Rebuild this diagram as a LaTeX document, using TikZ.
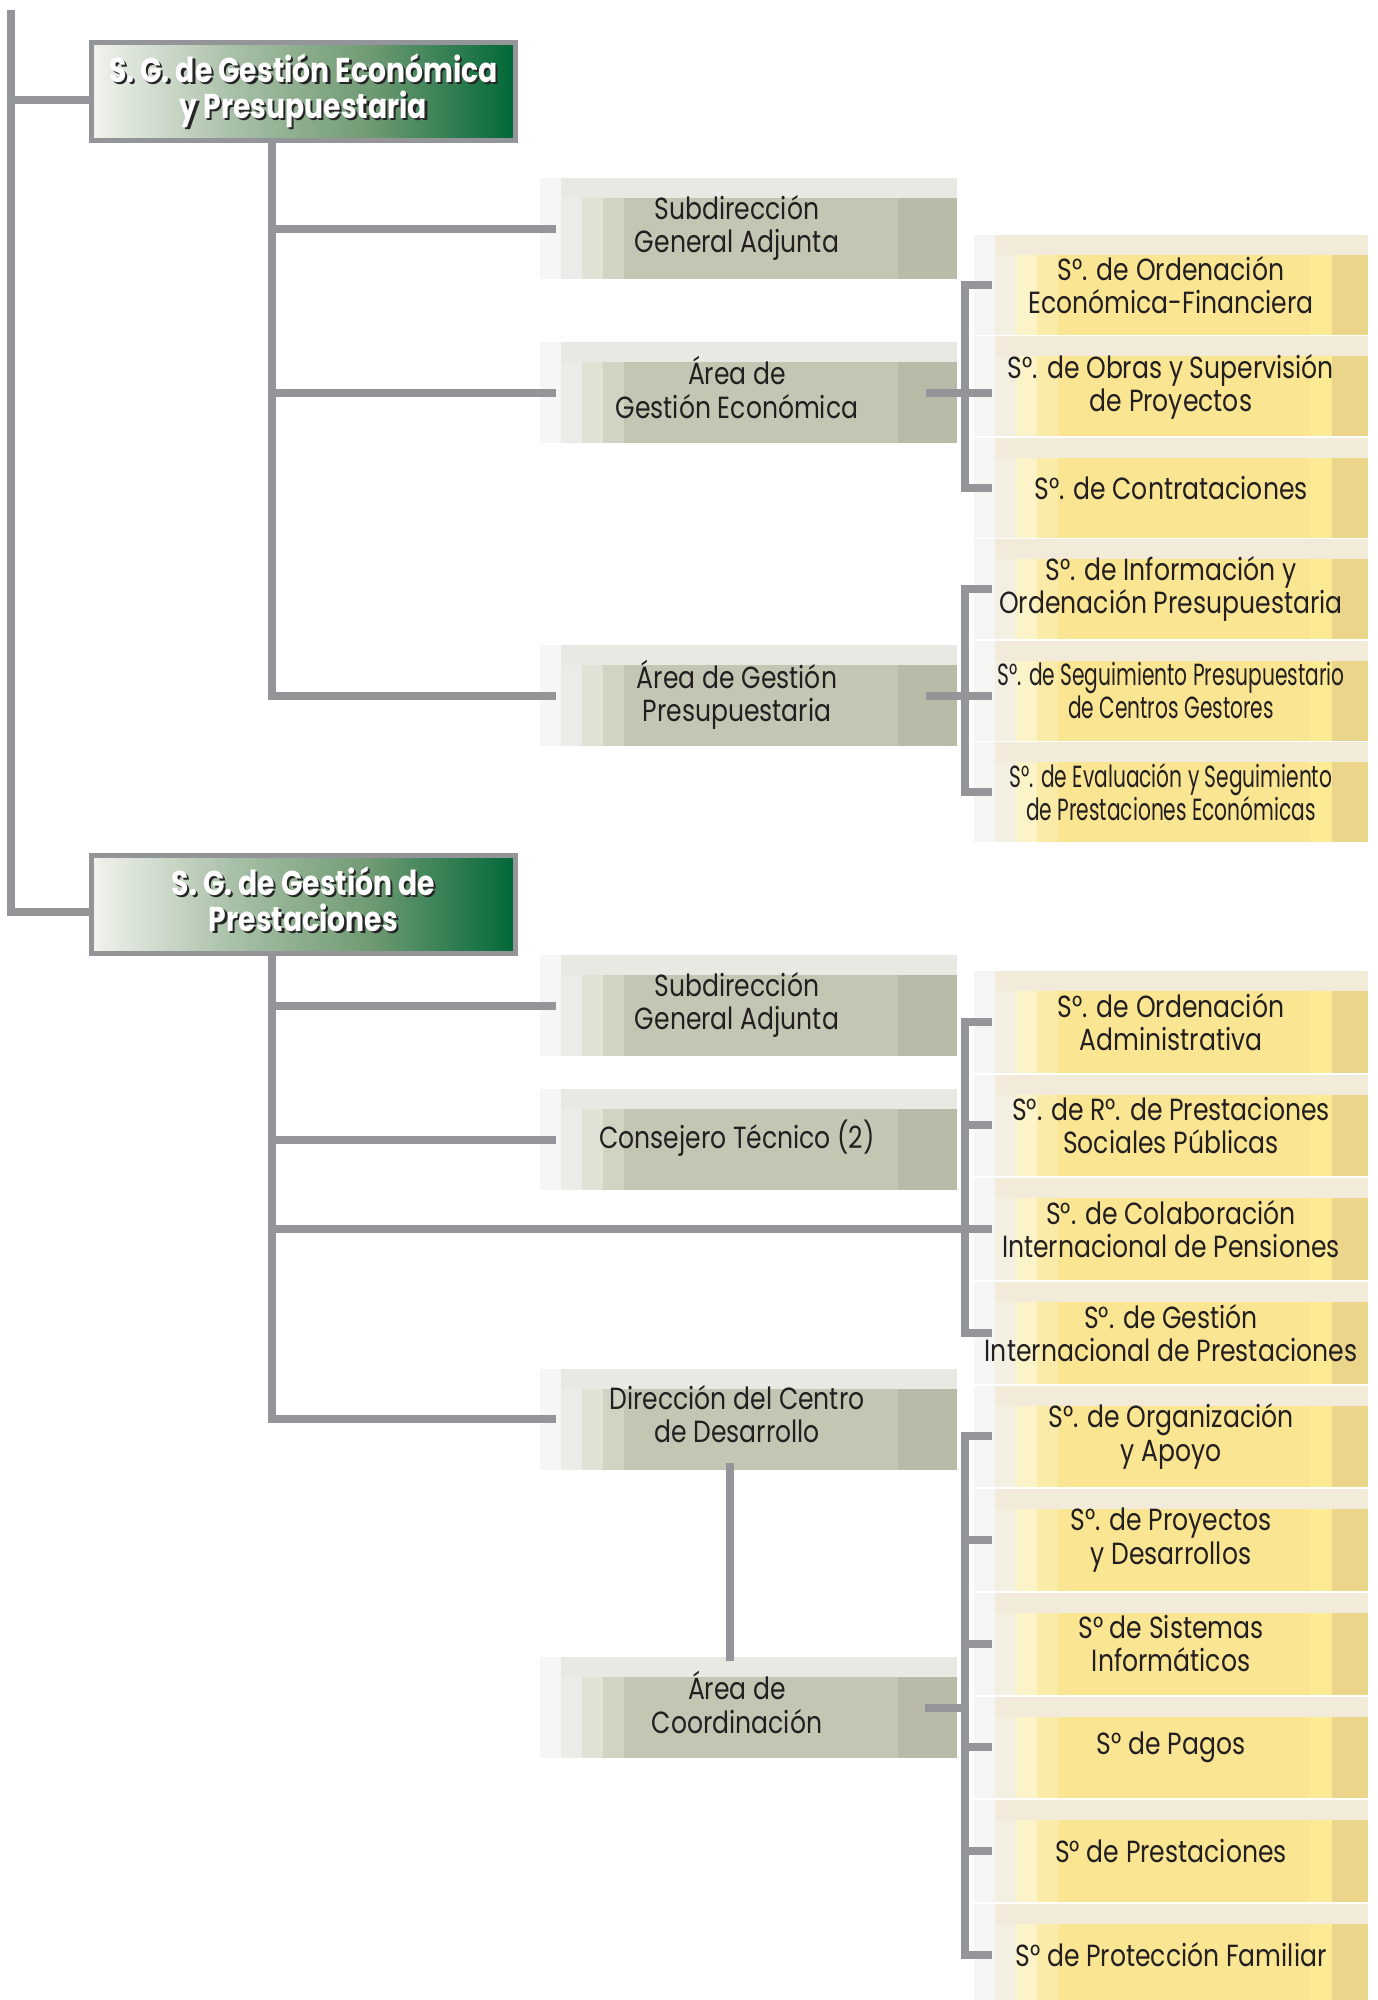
\documentclass[tikz,border=0pt]{standalone}
\usepackage{fontspec}
\setmainfont{Poppins}[FakeStretch=0.82]
\newfontfamily\narrowfont{Poppins}[FakeStretch=0.66]
\usetikzlibrary{calc}

\definecolor{linegray}{HTML}{939598}
\definecolor{txt}{HTML}{231F20}
\definecolor{sglight}{HTML}{F2F3EE}
\definecolor{sgmid}{HTML}{A7BFA6}
\definecolor{sgmidb}{HTML}{6F9A73}
\definecolor{sgdark}{HTML}{006837}
\definecolor{graymain}{HTML}{C4C6B4}
\definecolor{graydark}{HTML}{B9BAA8}
\definecolor{graytop}{HTML}{E8E9E3}
\definecolor{graycola}{HTML}{F6F6F4}
\definecolor{graycolb}{HTML}{EBECE7}
\definecolor{graycolc}{HTML}{E0E2D6}
\definecolor{graycold}{HTML}{D1D3C3}
\definecolor{yelmain}{HTML}{F9E592}
\definecolor{yelbright}{HTML}{FCEB94}
\definecolor{yeldark}{HTML}{EAD58A}
\definecolor{yeltop}{HTML}{F2EBD9}
\definecolor{yelcola}{HTML}{F5F5F3}
\definecolor{yelcolb}{HTML}{F3EFE1}
\definecolor{yelcolc}{HTML}{FCF4C8}
\definecolor{yelcold}{HTML}{FAEBA8}

\pgfdeclarehorizontalshading{sgshade}{100bp}{color(0bp)=(sglight); color(25bp)=(sglight); color(42bp)=(sgmid); color(58bp)=(sgmidb); color(75bp)=(sgdark); color(100bp)=(sgdark)}

\newcommand\txtsize{\fontsize{8.7}{9.4}\selectfont}
\newcommand\sgsize{\fontsize{9.8}{8}\selectfont\bfseries}
\newcommand\shadowed[1]{\makebox[0pt][l]{\kern0.22mm\raisebox{-0.22mm}{\color{black!85}\begin{tabular}{@{}c@{}}#1\end{tabular}}}\begin{tabular}{@{}c@{}}#1\end{tabular}}
\newcommand\gtext[1]{\begin{tabular}{@{}c@{}}#1\end{tabular}\hspace*{2.3mm}}

\tikzset{
  conn/.style={draw=linegray, line width=0.8mm},
  sgbox/.style={draw=linegray, line width=0.5mm, shade, shading=sgshade,
    minimum width=42.4mm, minimum height=9.8mm, inner sep=0pt, text=white, font=\sgsize},
  graybox/.style={minimum width=41.7mm, minimum height=10.1mm, inner sep=0pt, text=txt, font=\txtsize,
    path picture={
      \coordinate (pa) at (path picture bounding box.south west);
      \coordinate (pb) at (path picture bounding box.north east);
      \coordinate (pc) at (pa |- pb);
      \coordinate (pd) at (pb |- pa);
      \fill[graymain] (pa) rectangle (pb);
      \fill[graydark] ([xshift=-5.9mm]pd) rectangle (pb);
      \fill[graycola] (pa) rectangle ([xshift=2.1mm]pc);
      \fill[graycolb] ([xshift=2.1mm]pa) rectangle ([xshift=4.2mm]pc);
      \fill[graycolc] ([xshift=4.2mm]pa) rectangle ([xshift=6.3mm]pc);
      \fill[graycold] ([xshift=6.3mm]pa) rectangle ([xshift=8.4mm]pc);
      \fill[graytop] ([xshift=2.1mm]pc) rectangle ([yshift=-2mm]pb);
    }},
  yellowbox/.style={minimum width=39.4mm, minimum height=10mm, inner sep=0pt, text=txt,
    font=\txtsize, align=center,
    path picture={
      \coordinate (pa) at (path picture bounding box.south west);
      \coordinate (pb) at (path picture bounding box.north east);
      \coordinate (pc) at (pa |- pb);
      \coordinate (pd) at (pb |- pa);
      \fill[yelmain] (pa) rectangle (pb);
      \fill[yelbright] ([xshift=-5.8mm]pd) rectangle ([xshift=-3.6mm]pb);
      \fill[yeldark] ([xshift=-3.6mm]pd) rectangle (pb);
      \fill[yelcola] (pa) rectangle ([xshift=2.1mm]pc);
      \fill[yelcolb] ([xshift=2.1mm]pa) rectangle ([xshift=4.2mm]pc);
      \fill[yelcolc] ([xshift=4.2mm]pa) rectangle ([xshift=6.3mm]pc);
      \fill[yelcold] ([xshift=6.3mm]pa) rectangle ([xshift=8.4mm]pc);
      \fill[yeltop] ([xshift=2.1mm]pc) rectangle ([yshift=-2mm]pb);
    }},
  yellowtall/.style={yellowbox, minimum height=10.15mm},
  narrow/.style={font=\narrowfont\txtsize}
}

\begin{document}
\begin{tikzpicture}[x=0.1mm,y=-0.1mm]
			%%%%% START %%%%%
			\useasboundingbox (0,0) rectangle (1378,2000);
			
			\node[sgbox] (sg1) at (303.5,91.5) {\shadowed{S. G. de Gestión Económica\\y Presupuestaria}};
			\node[sgbox] (sg2) at (303.5,904) {\shadowed{S. G. de Gestión de\\Prestaciones}};
			
			\node[graybox] (gsa1) at (748.5,228.5) {\gtext{Subdirección\\General Adjunta}};
			\node[graybox] (age) at (748.5,392.5) {\gtext{Área de\\Gestión Económica}};
			\node[graybox] (agp) at (748.5,695.5) {\gtext{Área de Gestión\\Presupuestaria}};
			\node[graybox] (gsa2) at (748.5,1005.5) {\gtext{Subdirección\\General Adjunta}};
			\node[graybox] (ct) at (748.5,1139.5) {\gtext{Consejero Técnico (2)}};
			\node[graybox] (dcd) at (748.5,1419) {\gtext{Dirección del Centro\\de Desarrollo}};
			\node[graybox] (aco) at (748.5,1707.5) {\gtext{Área de\\Coordinación}};
			
			\node[yellowbox] (ye1) at (1171,285) {S°. de Ordenación\\Económica-Financiera};
			\node[yellowbox] (ye2) at (1171,386.4) {S°. de Obras y Supervisión\\de Proyectos};
			\node[yellowbox] (ye3) at (1171,487.8) {S°. de Contrataciones};
			\node[yellowbox] (ye4) at (1171,589.2) {S°. de Información y\\Ordenación Presupuestaria};
			\node[yellowbox, narrow] (ye5) at (1171,690.6) {S°. de Seguimiento Presupuestario\\de Centros Gestores};
			\node[yellowbox, narrow] (ye6) at (1171,792) {S°. de Evaluación y Seguimiento\\de Prestaciones Económicas};
			
			\node[yellowtall] (yl1) at (1171,1021.8) {S°. de Ordenación\\Administrativa};
			\node[yellowtall] (yl2) at (1171,1125.4) {S°. de R°. de Prestaciones\\Sociales Públicas};
			\node[yellowtall] (yl3) at (1171,1229.1) {S°. de Colaboración\\Internacional de Pensiones};
			\node[yellowtall] (yl4) at (1171,1332.8) {S°. de Gestión\\Internacional de Prestaciones};
			\node[yellowtall] (yl5) at (1171,1436.4) {S°. de Organización\\y Apoyo};
			\node[yellowtall] (yl6) at (1171,1540.1) {S°. de Proyectos\\y Desarrollos};
			\node[yellowtall] (yl7) at (1171,1643.8) {S° de Sistemas\\Informáticos};
			\node[yellowtall] (yl8) at (1171,1747.4) {S° de Pagos};
			\node[yellowtall] (yl9) at (1171,1851.1) {S° de Prestaciones};
			\node[yellowtall] (yl10) at (1171,1954.8) {S° de Protección Familiar};
			
			% left trunk
			\coordinate (top) at (11,10);
			\coordinate (sg1in) at ([yshift=-0.85mm]sg1.west);
			\coordinate (sg2in) at ([yshift=-0.8mm]sg2.west);
			\draw[conn] (top) |- (sg2in);
			\draw[conn] (top |- sg1in) -- (sg1in);
			
			% first subtrunk
			\coordinate (t1) at ([xshift=-3.15mm]sg1.south);
			\draw[conn] (t1) |- ([xshift=1.7mm]agp.west);
			\draw[conn] (t1 |- gsa1.west) -- ([xshift=1.7mm]gsa1.west);
			\draw[conn] (t1 |- age.west) -- ([xshift=1.7mm]age.west);
			
			\draw[conn] ([xshift=1.9mm]ye1.west) -| ([xshift=-0.8mm]ye3.west) -- ([xshift=1.9mm]ye3.west);
			\draw[conn] ([xshift=-3.2mm]age.east) -- ($(age.east -| ye2.west)+(1.9mm,0)$);
			\draw[conn] ([xshift=1.9mm]ye4.west) -| ([xshift=-0.8mm]ye6.west) -- ([xshift=1.9mm]ye6.west);
			\draw[conn] ([xshift=-3.2mm]agp.east) -- ($(agp.east -| ye5.west)+(1.9mm,0)$);
			
			% second subtrunk
			\coordinate (t2) at ([xshift=-3.15mm]sg2.south);
			\draw[conn] (t2) |- ([xshift=1.7mm]dcd.west);
			\draw[conn] (t2 |- gsa2.west) -- ([xshift=1.7mm]gsa2.west);
			\draw[conn] (t2 |- ct.west) -- ([xshift=1.7mm]ct.west);
			\draw[conn] (t2 |- yl3.west) -- ([xshift=1.9mm]yl3.west);
			
			\draw[conn] ([xshift=1.9mm]yl1.west) -| ([xshift=-0.8mm]yl4.west) -- ([xshift=1.9mm]yl4.west);
			\draw[conn] ([xshift=-0.8mm]yl2.west) -- ([xshift=1.9mm]yl2.west);
			
			\draw[conn] ([xshift=-1.85mm,yshift=0.7mm]dcd.south) -- ([xshift=-1.85mm,yshift=-0.5mm]aco.north);
			\draw[conn] ([xshift=1.9mm]yl5.west) -| ([xshift=-0.8mm]yl10.west) -- ([xshift=1.9mm]yl10.west);
			\draw[conn] ([xshift=-0.8mm]yl6.west) -- ([xshift=1.9mm]yl6.west);
			\draw[conn] ([xshift=-0.8mm]yl7.west) -- ([xshift=1.9mm]yl7.west);
			\draw[conn] ([xshift=-0.8mm]yl8.west) -- ([xshift=1.9mm]yl8.west);
			\draw[conn] ([xshift=-0.8mm]yl9.west) -- ([xshift=1.9mm]yl9.west);
			\draw[conn] ([xshift=-3.3mm]aco.east) -- ($(aco.east -| yl5.west)+(-0.8mm,0)$);
			
			%%%%% END %%%%%
\end{tikzpicture}
\end{document}
